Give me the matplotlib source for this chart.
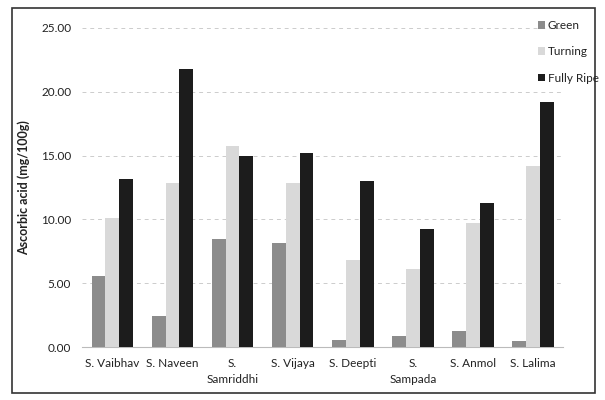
import matplotlib
matplotlib.use("Agg")
import matplotlib.pyplot as plt
import numpy as np
from matplotlib.patches import Rectangle

plt.rcParams['font.family'] = ['Lato', 'DejaVu Sans']

categories = ["S. Vaibhav", "S. Naveen", "S.\nSamriddhi", "S. Vijaya", "S. Deepti",
              "S.\nSampada", "S. Anmol", "S. Lalima"]
green = [5.6, 2.4, 8.5, 8.15, 0.55, 0.85, 1.25, 0.45]
turning = [10.1, 12.85, 15.75, 12.85, 6.8, 6.1, 9.7, 14.2]
fully_ripe = [13.2, 21.8, 15.0, 15.2, 13.0, 9.25, 11.3, 19.2]
series_names = ["Green", "Turning", "Fully Ripe"]
yticks = [0, 5, 10, 15, 20, 25]

fig = plt.figure(figsize=(6.05, 4.0), dpi=100)
ax = fig.add_axes([0.136, 0.1325, 0.795, 0.7975])

x = np.arange(len(categories))
w = 0.23
colors = ["#8c8c8c", "#d9d9d9", "#1c1c1c"]
for i, (vals, name, c) in enumerate(zip([green, turning, fully_ripe], series_names, colors)):
    ax.bar(x + (i - 1) * w, vals, width=w, color=c, label=name, zorder=3)

ax.set_xlim(-0.5, len(categories) - 0.5)
ax.set_ylim(0, 25)
ax.set_yticks(yticks)
ax.set_yticklabels([f"{v:.2f}" for v in yticks], fontsize=8.5, color="#222222")
ax.set_xticks(x)
ax.set_xticklabels(categories, fontsize=8.5, color="#222222", linespacing=1.5)
ax.tick_params(axis='both', length=0, pad=8)
ax.yaxis.grid(True, linestyle=(0, (4, 4)), color="#cccccc", linewidth=0.7, zorder=0)
for s in ["top", "right", "left"]:
    ax.spines[s].set_visible(False)
ax.spines["bottom"].set_color("#bbbbbb")
ax.set_ylabel("Ascorbic acid (mg/100g)", fontsize=9, fontweight="bold", color="#222222", labelpad=8)

leg = fig.legend(loc="upper left", bbox_to_anchor=(0.882, 0.962), frameon=False,
                 fontsize=8.5, handlelength=0.6, handleheight=0.6, handletextpad=0.2,
                 labelspacing=1.3, borderaxespad=0)
for t in leg.get_texts():
    t.set_color("#222222")

fig.patches.append(Rectangle((12 / 605, 1 - 393 / 400), 583 / 605, 385 / 400,
                             transform=fig.transFigure, fill=False,
                             edgecolor="#333333", linewidth=1.2))

fig.savefig("out.png", dpi=100)
